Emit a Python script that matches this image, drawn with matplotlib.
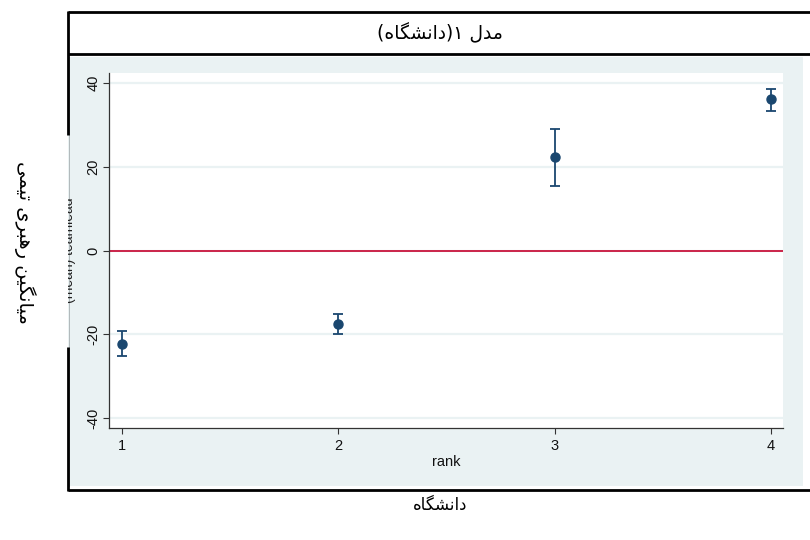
import matplotlib
matplotlib.use("Agg")
import matplotlib.pyplot as plt
from matplotlib.lines import Line2D
from matplotlib.patches import Rectangle
from matplotlib.transforms import Bbox

plt.rcParams['font.family'] = ['Liberation Sans', 'DejaVu Sans']
plt.rcParams['axes.unicode_minus'] = False

# ---------------- data ----------------
ranks = [1, 2, 3, 4]
means = [-22.3, -17.5, 22.3, 36.1]
ci_low = [-25.3, -19.9, 15.4, 33.4]
ci_high = [-19.3, -15.1, 29.1, 38.5]
y_ticks = [-40, -20, 0, 20, 40]
x_ticks = [1, 2, 3, 4]
title_text = "مدل ۱(دانشگاه)"
x_title = "rank"
outer_xlabel = "دانشگاه"
outer_ylabel = "میانگین رهبری تیمی"
inner_ylabel = "(mean) teamlead"

# ------------- simple Persian shaping (presentation forms) -------------
FORMS = {  # iso, fin, ini, med
    'ا': ('\uFE8D', '\uFE8E', None, None),
    'د': ('\uFEA9', '\uFEAA', None, None),
    'ر': ('\uFEAD', '\uFEAE', None, None),
    'ن': ('\uFEE5', '\uFEE6', '\uFEE7', '\uFEE8'),
    'ش': ('\uFEB5', '\uFEB6', '\uFEB7', '\uFEB8'),
    'گ': ('\uFB92', '\uFB93', '\uFB94', '\uFB95'),
    'ه': ('\uFEE9', '\uFEEA', '\uFEEB', '\uFEEC'),
    'م': ('\uFEE1', '\uFEE2', '\uFEE3', '\uFEE4'),
    'ل': ('\uFEDD', '\uFEDE', '\uFEDF', '\uFEE0'),
    'ی': ('\uFBFC', '\uFBFD', '\uFBFE', '\uFBFF'),
    'ب': ('\uFE8F', '\uFE90', '\uFE91', '\uFE92'),
    'ت': ('\uFE95', '\uFE96', '\uFE97', '\uFE98'),
}
MIRROR = {'(': ')', ')': '('}


def shape(s):
    out = []
    for i, c in enumerate(s):
        if c not in FORMS:
            out.append(c)
            continue
        prev = s[i - 1] if i > 0 else None
        nxt = s[i + 1] if i + 1 < len(s) else None
        jp = prev in FORMS and FORMS[prev][2] is not None
        jn = FORMS[c][2] is not None and nxt in FORMS
        iso, fin, ini, med = FORMS[c]
        if jp and jn:
            out.append(med)
        elif jp:
            out.append(fin)
        elif jn:
            out.append(ini)
        else:
            out.append(iso)
    return out


def rtl(s):
    chars = shape(s)
    return ''.join(MIRROR.get(c, c) for c in reversed(chars))


# ---------------- figure ----------------
W, H = 810, 540
fig = plt.figure(figsize=(W / 100, H / 100), dpi=100)
fig.patch.set_facecolor('white')


def fx(x):
    return x / W


def fy(y):
    return 1 - y / H


PANEL = '#EAF2F3'
NAVY = '#1A476F'
RED = '#C8143C'

# light graph region
fig.patches.append(Rectangle((fx(68), fy(486)), fx(803) - fx(68), fy(57) - fy(486),
                             transform=fig.transFigure, facecolor=PANEL,
                             edgecolor='none', zorder=-5))
fig.add_artist(Line2D([fx(68.5), fx(68.5)], [fy(57), fy(486)], color='#A8B0B2',
                      linewidth=0.6, transform=fig.transFigure, zorder=-4))

# clipped inner y title (partly hidden)
t = fig.text(fx(69.5), fy(250), inner_ylabel, rotation=90, fontsize=10,
             ha='center', va='center', color='#222222', zorder=1)
t.set_clip_box(Bbox.from_extents(68, H - 347, 90, H - 135))
t.set_clip_on(True)

# black frame lines
lw = 2.0
for xs, ys in [((68, 815), (12, 12)), ((68, 815), (54, 54)), ((68, 815), (489.5, 489.5)),
               ((68, 68), (11, 135)), ((68, 68), (347, 490.5))]:
    fig.add_artist(Line2D([fx(v) for v in xs], [fy(v) for v in ys], color='black',
                          linewidth=lw, transform=fig.transFigure, solid_capstyle='butt',
                          zorder=5))

# main axes
ax = fig.add_axes([fx(109), fy(428), fx(783) - fx(109), fy(73) - fy(428)])
ax.set_zorder(3)
ax.set_facecolor('white')
ax.set_xlim(0.94, 4.055)
ax.set_ylim(-42.4, 42.4)

for v in y_ticks:
    ax.axhline(v, color=PANEL, linewidth=1.6, zorder=0)
ax.axhline(0, color=RED, linewidth=1.3, zorder=1)

yerr = [[m - lo for m, lo in zip(means, ci_low)], [hi - m for m, hi in zip(means, ci_high)]]
ax.errorbar(ranks, means, yerr=yerr, fmt='o', color=NAVY, markersize=6.5,
            elinewidth=1.3, capsize=3.8, capthick=1.3, zorder=3)

ax.set_xticks(x_ticks)
ax.set_xticklabels([str(v) for v in x_ticks])
ax.set_yticks(y_ticks)
ax.set_yticklabels([str(v) for v in y_ticks], rotation=90, va='center')
ax.tick_params(axis='both', direction='out', length=4, width=0.8, color='#333333',
               labelsize=10.5, labelcolor='#111111')
ax.tick_params(axis='y', pad=2)
ax.tick_params(axis='x', pad=4)
for s in ['top', 'right']:
    ax.spines[s].set_visible(False)
for s in ['left', 'bottom']:
    ax.spines[s].set_color('#333333')
    ax.spines[s].set_linewidth(0.9)
ax.set_xlabel(x_title, fontsize=10.5, labelpad=1, color='#111111')

# titles
fig.text(fx(440), fy(33), rtl(title_text), fontsize=13.5, ha='center', va='center',
         family=['DejaVu Sans'])
fig.text(fx(440), fy(505), rtl(outer_xlabel), fontsize=12, ha='center', va='center',
         family=['DejaVu Sans'])
fig.text(fx(25), fy(242), rtl(outer_ylabel), fontsize=14, ha='center', va='center',
         rotation=-90, family=['DejaVu Sans'])

fig.savefig('out.png', dpi=100)
